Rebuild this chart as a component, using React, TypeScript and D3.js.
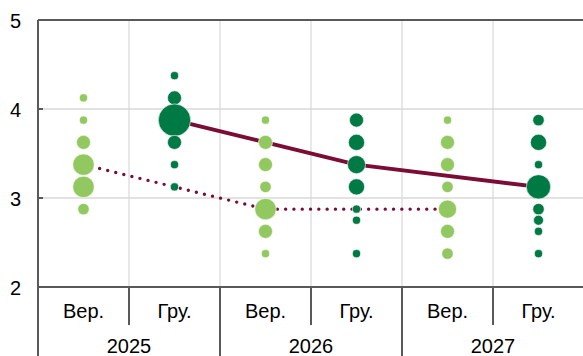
import React from "react";
import * as d3 from "d3";

const categories = ["Вер.", "Гру.", "Вер.", "Гру.", "Вер.", "Гру."];
const years = ["2025", "2026", "2027"];
const yTicks = [2, 3, 4, 5];

// rate levels and number of votes per column
const dotRates: number[][] = [
  [4.125, 3.875, 3.625, 3.375, 3.125, 2.875],
  [4.375, 4.125, 3.875, 3.625, 3.375, 3.125],
  [3.875, 3.625, 3.375, 3.125, 2.875, 2.625, 2.375],
  [3.875, 3.625, 3.375, 3.125, 2.875, 2.75, 2.375],
  [3.875, 3.625, 3.375, 3.125, 2.875, 2.625, 2.375],
  [3.875, 3.625, 3.375, 3.125, 2.875, 2.75, 2.625, 2.375],
];
const dotCounts: number[][] = [
  [1, 1, 3, 7, 7, 2],
  [1, 3, 16, 3, 1, 1],
  [1, 3, 3, 2, 7, 3, 1],
  [3, 4, 5, 4, 1, 1, 1],
  [1, 3, 3, 2, 5, 3, 2],
  [2, 4, 1, 9, 2, 1.5, 1, 1],
];
const medianSep = [3.375, 2.875, 2.875];
const medianDec = [3.875, 3.375, 3.125];

const W = 583;
const H = 356;
const left = 38;
const right = 584;
const top = 20;
const bottom = 287;

const lightGreen = "#92C860";
const darkGreen = "#007A44";
const lineColor = "#7A0C35";
const axisColor = "#595959";
const gridColor = "#D9D9D9";
const font = "Arial, 'Liberation Sans', sans-serif";

export default function App() {
  const x = d3.scaleBand<number>().domain(d3.range(categories.length)).range([left, right]).padding(0);
  const y = d3.scaleLinear().domain([2, 5]).range([bottom, top]);
  const r = d3.scaleSqrt().domain([0, 16]).range([0, 16.2]);
  const bw = x.bandwidth();
  const cx = (i: number) => (x(i) as number) + bw / 2;

  const lineGen = d3
    .line<[number, number]>()
    .x((d) => d[0])
    .y((d) => d[1]);

  const sepPts: [number, number][] = medianSep.map((v, k) => [cx(k * 2), y(v)]);
  const decPts: [number, number][] = medianDec.map((v, k) => [cx(k * 2 + 1), y(v)]);

  return (
    <div style={{ position: "absolute", left: 0, top: 0 }}>
      <svg width={W} height={H} style={{ display: "block", background: "#fff" }}>
        {/* horizontal grid */}
        {yTicks
          .filter((t) => t !== 2 && t !== 5)
          .map((t) => (
            <line key={"h" + t} x1={left} x2={right} y1={y(t)} y2={y(t)} stroke={gridColor} strokeWidth={1.5} />
          ))}
        {/* vertical grid */}
        {d3.range(1, categories.length).map((i) => (
          <line key={"v" + i} x1={x(i)} x2={x(i)} y1={top} y2={bottom} stroke={gridColor} strokeWidth={1.2} />
        ))}
        {/* median lines */}
        <path d={lineGen(sepPts) || ""} fill="none" stroke={lineColor} strokeWidth={3.4} strokeDasharray="0 8.3" strokeLinecap="round" />
        <path d={lineGen(decPts) || ""} fill="none" stroke={lineColor} strokeWidth={4} />
        {/* dots */}
        {dotRates.map((rates, i) =>
          rates.map((v, j) => (
            <circle
              key={i + "-" + j}
              cx={cx(i)}
              cy={y(v)}
              r={r(dotCounts[i][j])}
              fill={i % 2 === 0 ? lightGreen : darkGreen}
              stroke="#fff"
              strokeWidth={0.6}
            />
          ))
        )}
        {/* axes frame */}
        <line x1={left} x2={right} y1={top} y2={top} stroke={axisColor} strokeWidth={2} />
        <line x1={left} x2={right} y1={bottom} y2={bottom} stroke={axisColor} strokeWidth={2} />
        <line x1={left} x2={left} y1={top} y2={H} stroke={axisColor} strokeWidth={2} />
        {yTicks.map((t) => (
          <g key={"yt" + t}>
            <line x1={left} x2={left + 5} y1={y(t)} y2={y(t)} stroke={axisColor} strokeWidth={2} />
            <text x={21} y={y(t) + 7.5} textAnchor="end" fontFamily={font} fontSize={20} fill="#000">
              {t}
            </text>
          </g>
        ))}
        {/* x ticks */}
        {d3.range(1, categories.length).map((i) => (
          <line
            key={"xt" + i}
            x1={x(i)}
            x2={x(i)}
            y1={bottom}
            y2={i % 2 === 0 ? H : 325}
            stroke={axisColor}
            strokeWidth={2}
          />
        ))}
        {categories.map((c, i) => (
          <text key={"c" + i} x={cx(i)} y={318} textAnchor="middle" fontFamily={font} fontSize={20} fill="#000">
            {c}
          </text>
        ))}
        {years.map((yr, k) => (
          <text key={"y" + k} x={(x(k * 2) as number) + bw} y={353} textAnchor="middle" fontFamily={font} fontSize={20} fill="#000">
            {yr}
          </text>
        ))}
      </svg>
    </div>
  );
}
